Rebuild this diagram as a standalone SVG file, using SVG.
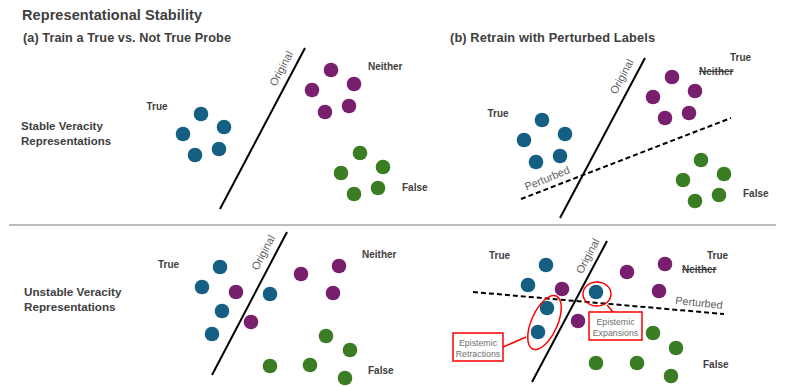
<svg xmlns="http://www.w3.org/2000/svg" width="793" height="386" viewBox="0 0 793 386">
<style>
.t{fill:#404040;font-family:"Liberation Sans",Arial,sans-serif;font-weight:bold}
.lab{font-size:10px}
.g{fill:#5f5f5f;font-family:"Liberation Sans",Arial,sans-serif;font-size:11px;text-anchor:middle}
.gp{font-size:10.8px}
.cap{fill:#707070;font-family:"Liberation Sans",Arial,sans-serif;font-size:8.8px;text-anchor:middle}
.strike{text-decoration:line-through}
.sep{stroke:#a6a6a6;stroke-width:1.3}
.orig{stroke:#000;stroke-width:2;fill:none}
.pert{stroke:#000;stroke-width:2;fill:none;stroke-dasharray:5 3}
.tl{fill:#156082}
.pu{fill:#78206e}
.gr{fill:#3b7d23}
.red{stroke:#ff0000;stroke-width:1.5;fill:none}
.box{stroke:#ff0000;stroke-width:1.5;fill:#fff}
</style>
<rect width="793" height="386" fill="#fff"/>

<g id="headings">
<text class="t" x="22" y="20" font-size="14.5" textLength="180">Representational Stability</text>
<text class="t" x="23" y="42" font-size="12.7" textLength="208">(a) Train a True vs. Not True Probe</text>
<text class="t" x="450" y="42" font-size="12.8" textLength="205">(b) Retrain with Perturbed Labels</text>
<line class="sep" x1="9" y1="225" x2="776" y2="225"/>
</g>

<g id="row-stable" class="t" font-size="11.5">
<text x="21" y="130">Stable Veracity</text>
<text x="21" y="145">Representations</text>
</g>
<g id="row-unstable" class="t" font-size="11.7">
<text x="24" y="296">Unstable Veracity</text>
<text x="24" y="311">Representations</text>
</g>

<g id="connectors">
<line class="orig" x1="305" y1="48" x2="220" y2="209"/>
<line class="orig" x1="645" y1="58" x2="560" y2="218"/>
<line class="pert" x1="521" y1="199" x2="731" y2="118"/>
<line class="orig" x1="287" y1="232" x2="212" y2="375"/>
<line class="orig" x1="607" y1="241" x2="532" y2="382"/>
<line class="pert" x1="473" y1="292" x2="724" y2="314"/>
<line class="red" x1="503" y1="347" x2="526" y2="337"/>
<line class="red" x1="607" y1="305" x2="613" y2="312"/>
</g>

<g id="line-labels">
<text class="g" transform="translate(281,68.5) rotate(-62)" y="4">Original</text>
<text class="g" transform="translate(621.5,76.5) rotate(-62)" y="4">Original</text>
<text class="g gp" transform="translate(547,178) rotate(-22)" y="4">Perturbed</text>
<text class="g" transform="translate(263,252.5) rotate(-62)" y="4">Original</text>
<text class="g" transform="translate(587.5,256) rotate(-62)" y="4">Original</text>
<text class="g gp" transform="translate(699,302.5) rotate(6)" y="4">Perturbed</text>
</g>

<g id="a-true">
<text class="t lab" x="157" y="109.5" text-anchor="middle">True</text>
<circle class="tl" cx="201" cy="114" r="7.3"/><circle class="tl" cx="224" cy="127" r="7.3"/><circle class="tl" cx="183" cy="134" r="7.3"/><circle class="tl" cx="219" cy="149" r="7.3"/><circle class="tl" cx="195" cy="155" r="7.3"/>
</g>
<g id="a-neither">
<text class="t lab" x="368" y="69.5">Neither</text>
<circle class="pu" cx="331" cy="70" r="7.3"/><circle class="pu" cx="354" cy="84" r="7.3"/><circle class="pu" cx="312" cy="90" r="7.3"/><circle class="pu" cx="349" cy="106" r="7.3"/><circle class="pu" cx="325" cy="112" r="7.3"/>
</g>
<g id="a-false">
<text class="t lab" x="402" y="190.5">False</text>
<circle class="gr" cx="360" cy="153" r="7.3"/><circle class="gr" cx="383" cy="167" r="7.3"/><circle class="gr" cx="341" cy="173" r="7.3"/><circle class="gr" cx="378" cy="188" r="7.3"/><circle class="gr" cx="354" cy="194" r="7.3"/>
</g>

<g id="b-true">
<text class="t lab" x="498" y="116.5" text-anchor="middle">True</text>
<circle class="tl" cx="542" cy="120" r="7.3"/><circle class="tl" cx="565" cy="134" r="7.3"/><circle class="tl" cx="524" cy="140" r="7.3"/><circle class="tl" cx="560" cy="156" r="7.3"/><circle class="tl" cx="536" cy="162" r="7.3"/>
</g>
<g id="b-neither">
<text class="t lab" x="740.5" y="60.5" text-anchor="middle">True</text>
<text class="t lab strike" x="699" y="74.5">Neither</text>
<circle class="pu" cx="672" cy="77" r="7.3"/><circle class="pu" cx="695" cy="91" r="7.3"/><circle class="pu" cx="653" cy="97" r="7.3"/><circle class="pu" cx="689" cy="113" r="7.3"/><circle class="pu" cx="665" cy="118" r="7.3"/>
</g>
<g id="b-false">
<text class="t lab" x="743" y="196.5">False</text>
<circle class="gr" cx="701" cy="160" r="7.3"/><circle class="gr" cx="724" cy="174" r="7.3"/><circle class="gr" cx="683" cy="180" r="7.3"/><circle class="gr" cx="719" cy="195" r="7.3"/><circle class="gr" cx="695" cy="201" r="7.3"/>
</g>

<g id="c-true">
<text class="t lab" x="168.5" y="267.5" text-anchor="middle">True</text>
<circle class="tl" cx="220" cy="267" r="7.3"/><circle class="tl" cx="202" cy="287" r="7.3"/><circle class="tl" cx="270" cy="294" r="7.3"/><circle class="tl" cx="222" cy="311" r="7.3"/><circle class="tl" cx="212" cy="334" r="7.3"/>
</g>
<g id="c-neither">
<text class="t lab" x="362" y="257.5">Neither</text>
<circle class="pu" cx="236" cy="292" r="7.3"/><circle class="pu" cx="301" cy="274" r="7.3"/><circle class="pu" cx="339" cy="266" r="7.3"/><circle class="pu" cx="333" cy="293" r="7.3"/><circle class="pu" cx="251" cy="322" r="7.3"/>
</g>
<g id="c-false">
<text class="t lab" x="368" y="373.5">False</text>
<circle class="gr" cx="326" cy="336" r="7.3"/><circle class="gr" cx="350" cy="350" r="7.3"/><circle class="gr" cx="270" cy="366" r="7.3"/><circle class="gr" cx="310" cy="365" r="7.3"/><circle class="gr" cx="345" cy="378" r="7.3"/>
</g>

<g id="d-true">
<text class="t lab" x="499.5" y="258.5" text-anchor="middle">True</text>
<circle class="tl" cx="546" cy="265" r="7.3"/><circle class="tl" cx="528" cy="285" r="7.3"/><circle class="tl" cx="596" cy="292" r="7.3"/><circle class="tl" cx="547" cy="308" r="7.3"/><circle class="tl" cx="538" cy="332" r="7.3"/>
</g>
<g id="d-neither">
<text class="t lab" x="717.5" y="258.5" text-anchor="middle">True</text>
<text class="t lab strike" x="682" y="272.5">Neither</text>
<circle class="pu" cx="562" cy="289" r="7.3"/><circle class="pu" cx="627" cy="272" r="7.3"/><circle class="pu" cx="665" cy="264" r="7.3"/><circle class="pu" cx="659" cy="291" r="7.3"/><circle class="pu" cx="578" cy="321" r="7.3"/>
</g>
<g id="d-false">
<text class="t lab" x="703" y="367.5">False</text>
<circle class="gr" cx="653" cy="333" r="7.3"/><circle class="gr" cx="676" cy="348" r="7.3"/><circle class="gr" cx="596" cy="363" r="7.3"/><circle class="gr" cx="637" cy="363" r="7.3"/><circle class="gr" cx="671" cy="376" r="7.3"/>
</g>

<g id="epistemic-retractions">
<ellipse class="red" cx="544.5" cy="322.5" rx="13" ry="29" transform="rotate(24 544.5 322.5)"/>
<rect class="box" x="453" y="333" width="50" height="28"/>
<text class="cap" x="478" y="346">Epistemic</text>
<text class="cap" x="478" y="357">Retractions</text>
</g>
<g id="epistemic-expansions">
<ellipse class="red" cx="597" cy="294" rx="14" ry="12"/>
<rect class="box" x="589" y="312" width="53" height="28"/>
<text class="cap" x="615.5" y="325">Epistemic</text>
<text class="cap" x="615.5" y="336">Expansions</text>
</g>
</svg>
